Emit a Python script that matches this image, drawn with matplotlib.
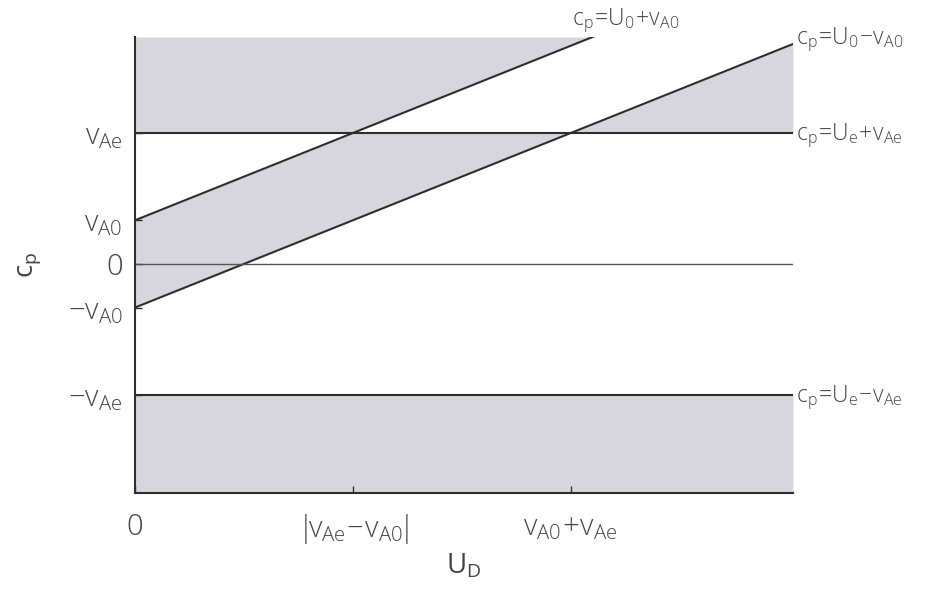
import numpy as np
import matplotlib
matplotlib.use("Agg")  # no display
import matplotlib.pyplot as plt

# characteristic speeds (arbitrary units)
v_A0 = 1.0
v_Ae = 3.0

# plotting range for the flow speed U_D and phase speed c_p
U_max = 6.04
c_min, c_max = -5.25, 5.2

x_ticks = [0, v_Ae - v_A0, v_A0 + v_Ae]
x_ticklabels = ['0', r'$\mathregular{|\!v_{Ae}\!-\!v_{A0}\!|}$', r'$\mathregular{v_{A0}\!+\!v_{Ae}}$']
y_ticks = [-v_Ae, -v_A0, 0, v_A0, v_Ae]
y_ticklabels = [r'$\mathregular{-v_{Ae}}$', r'$\mathregular{-v_{A0}}$', '0',
                r'$\mathregular{v_{A0}}$', r'$\mathregular{v_{Ae}}$']

line_labels = [r'$\mathregular{c_p\!=\!U_0\!+\!v_{A0}}$',
               r'$\mathregular{c_p\!=\!U_0\!-\!v_{A0}}$',
               r'$\mathregular{c_p\!=\!U_e\!+\!v_{Ae}}$',
               r'$\mathregular{c_p\!=\!U_e\!-\!v_{Ae}}$']

plt.rcParams['font.family'] = ['Open Sans', 'DejaVu Sans']
plt.rcParams['font.weight'] = 'light'
text_color = '#454545'
line_color = '#2e2e2e'
shade = '#d6d7de'

fig = plt.figure(figsize=(9.27, 5.91), dpi=100)
ax = fig.add_axes([135 / 927, 1 - 493 / 591, (793 - 135) / 927, (493 - 37) / 591])

U = np.linspace(0, U_max, 1200)
upper = U + v_A0
lower = U - v_A0

# shaded regions
ax.fill_between(U, np.minimum(np.maximum(upper, v_Ae), c_max), c_max, color=shade, lw=0)
ax.fill_between(U, v_Ae, np.clip(lower, v_Ae, c_max), color=shade, lw=0)
ax.fill_between(U, np.minimum(lower, v_Ae), np.minimum(upper, v_Ae), color=shade, lw=0)
ax.fill_between(U, c_min, -v_Ae, color=shade, lw=0)

# boundaries
ax.plot(U, upper, color=line_color, lw=1.5)
ax.plot(U, lower, color=line_color, lw=1.5)
ax.axhline(v_Ae, color=line_color, lw=1.5)
ax.axhline(-v_Ae, color=line_color, lw=1.5)
ax.axhline(0, color='#555555', lw=1.0)

ax.set_xlim(0, U_max)
ax.set_ylim(c_min, c_max)

for side in ['top', 'right']:
    ax.spines[side].set_visible(False)
for side in ['left', 'bottom']:
    ax.spines[side].set_color(line_color)
    ax.spines[side].set_linewidth(1.5)

ax.set_xticks(x_ticks)
ax.set_xticklabels(x_ticklabels)
ax.set_yticks(y_ticks)
ax.set_yticklabels(y_ticklabels)
ax.tick_params(direction='in', length=5, width=1, color=line_color,
               labelsize=21, labelcolor=text_color)
ax.tick_params(axis='x', pad=14)
ax.tick_params(axis='y', pad=9)

ax.set_xlabel(r'$\mathregular{U_D}$', fontsize=20, color=text_color, labelpad=4)
ax.set_ylabel(r'$\mathregular{c_p}$', fontsize=20, color=text_color, labelpad=18)

# labels at the ends of the boundary lines
ends = [(c_max - v_A0, c_max), (U_max, U_max - v_A0), (U_max, v_Ae), (U_max, -v_Ae)]
offsets = [(-15, 12), (2, 3), (2, -2), (2, -2)]
for lab, xy, off in zip(line_labels, ends, offsets):
    ax.annotate(lab, xy=xy, xytext=off, textcoords='offset points',
                ha='left', va='center', fontsize=16.5, color=text_color,
                annotation_clip=False)

plt.savefig('out.png', dpi=100)
